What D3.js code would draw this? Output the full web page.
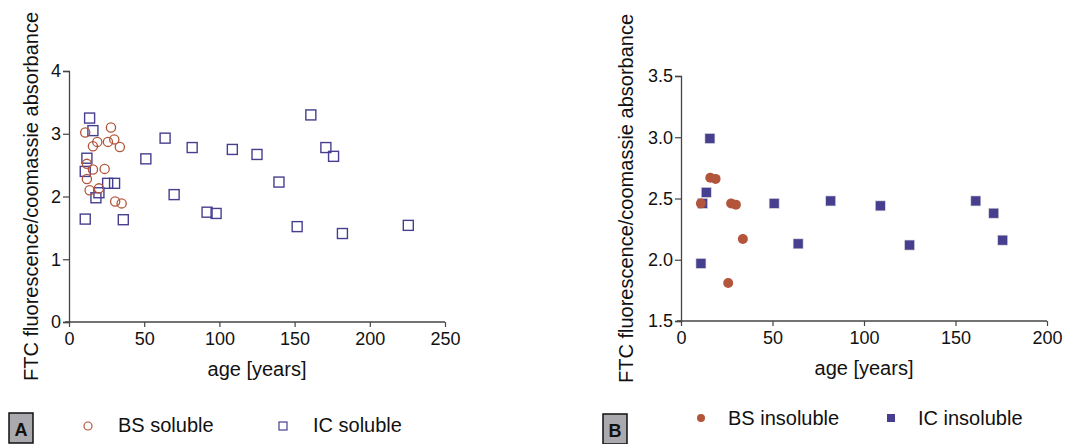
<!DOCTYPE html>
<html><head><meta charset="utf-8">
<script src="https://cdn.jsdelivr.net/npm/d3@7"></script>
<style>
body{margin:0;background:#fff;}
text{font-family:"Liberation Sans",Arial,sans-serif;fill:#111;}
.tick text{font-size:18px;}
</style></head>
<body><svg id="c" width="1065" height="444"></svg>
<script>
// Panel A: soluble fraction
const bsSolAge = [10.8,27.9,18.8,15.9,25.9,30.1,33.8,11.9,15.9,23.7,11.9,13.7,19.9,30.7,35.0];
const bsSolVal = [3.02,3.10,2.87,2.80,2.87,2.91,2.79,2.52,2.43,2.44,2.28,2.10,2.13,1.92,1.89];
const icSolAge = [13.7,15.9,11.9,10.8,10.8,17.9,19.9,25.7,30.3,36.1,51.1,63.9,69.9,81.9,91.8,97.8,108.6,125.0,139.6,151.7,160.8,170.8,175.9,181.8,225.6];
const icSolVal = [3.25,3.05,2.61,2.40,1.64,1.98,2.06,2.21,2.21,1.63,2.60,2.93,2.03,2.78,1.75,1.73,2.75,2.67,2.23,1.52,3.30,2.78,2.64,1.41,1.54];
// Panel B: insoluble fraction
const bsInsAge = [10.9,16.0,18.9,27.4,30.0,33.8,25.8];
const bsInsVal = [2.46,2.67,2.66,2.46,2.45,2.17,1.81];
const icInsAge = [15.8,13.8,11.8,10.9,50.9,64.0,81.8,108.9,124.9,161.1,170.9,175.8];
const icInsVal = [2.99,2.55,2.46,1.97,2.46,2.13,2.48,2.44,2.12,2.48,2.38,2.16];
const xTicksA = [0,50,100,150,200,250];
const yTicksA = [0,1,2,3,4];
const xTicksB = [0,50,100,150,200];
const yTicksB = [1.5,2.0,2.5,3.0,3.5];
const yTitle = "FTC fluorescence/coomassie absorbance";
const xTitle = "age [years]";

const red = "#b3553b", blue = "#463f8f";
const svg = d3.select("#c");

function panel(o){
  const g = svg.append("g");
  const x = d3.scaleLinear().domain(o.xd).range([o.x0,o.x1]);
  const y = d3.scaleLinear().domain(o.yd).range([o.y0,o.y1]);
  const ax = g.append("g").attr("transform",`translate(0,${o.y0})`)
    .call(d3.axisBottom(x).tickValues(o.xt).tickSize(5).tickPadding(5).tickFormat(d3.format("d")));
  const ay = g.append("g").attr("transform",`translate(${o.x0},0)`)
    .call(d3.axisLeft(y).tickValues(o.yt).tickSize(6).tickPadding(2).tickFormat(o.yf));
  [ax,ay].forEach(a=>{
    a.attr("font-size",null).attr("font-family",null);
    a.select(".domain").attr("stroke","#444").attr("stroke-width",1.3);
    a.selectAll(".tick line").attr("stroke","#444").attr("stroke-width",1.2);
    a.selectAll(".tick text").style("font-size","18px").attr("fill","#111");
  });
  ax.select(".domain").attr("d",`M${o.x0-4},0H${o.x1}`);
  g.append("text").attr("transform",`translate(${o.tx},${(o.y0+o.y1)/2}) rotate(-90)`)
    .attr("text-anchor","middle").attr("font-size",20).text(yTitle);
  g.append("text").attr("x",(o.x0+o.x1)/2).attr("y",o.y0+54)
    .attr("text-anchor","middle").attr("font-size",20).text(xTitle);
  return {g,x,y};
}

const A = panel({xd:[0,250],yd:[0,4],x0:69,x1:445,y0:322,y1:71,xt:xTicksA,yt:yTicksA,yf:d3.format("d"),tx:38});
const B = panel({xd:[0,200],yd:[1.5,3.5],x0:681,x1:1047,y0:321,y1:76,xt:xTicksB,yt:yTicksB,yf:d3.format(".1f"),tx:633});

// Panel A marks
A.g.selectAll(".sqA").data(icSolAge).enter().append("rect")
  .attr("x",(d)=>A.x(d)-5).attr("y",(d,i)=>A.y(icSolVal[i])-5).attr("width",10).attr("height",10)
  .attr("fill","none").attr("stroke",blue).attr("stroke-width",1.4);
A.g.selectAll(".ciA").data(bsSolAge).enter().append("circle")
  .attr("cx",(d)=>A.x(d)).attr("cy",(d,i)=>A.y(bsSolVal[i])).attr("r",4.6)
  .attr("fill","none").attr("stroke",red).attr("stroke-width",1.3);
// Panel B marks
B.g.selectAll(".sqB").data(icInsAge).enter().append("rect")
  .attr("x",(d)=>B.x(d)-5).attr("y",(d,i)=>B.y(icInsVal[i])-5).attr("width",10).attr("height",10)
  .attr("fill",blue).attr("stroke","#ddd").attr("stroke-width",0.6);
B.g.selectAll(".ciB").data(bsInsAge).enter().append("circle")
  .attr("cx",(d)=>B.x(d)).attr("cy",(d,i)=>B.y(bsInsVal[i])).attr("r",5)
  .attr("fill",red);

// Legends
function label(x,y,t){
  svg.append("rect").attr("x",x).attr("y",y).attr("width",24).attr("height",30)
    .attr("fill","#a9a9ae").attr("stroke","#111").attr("stroke-width",1.5);
  svg.append("text").attr("x",x+12).attr("y",y+23).attr("text-anchor","middle")
    .attr("font-size",18).attr("font-weight","bold").text(t);
}
label(9,413,"A");
label(603,414,"B");
svg.append("circle").attr("cx",88).attr("cy",426).attr("r",4).attr("fill","none").attr("stroke",red).attr("stroke-width",1.2);
svg.append("text").attr("x",118).attr("y",432).attr("font-size",20).text("BS soluble");
svg.append("rect").attr("x",279).attr("y",422).attr("width",8).attr("height",8).attr("fill","none").attr("stroke",blue).attr("stroke-width",1.2);
svg.append("text").attr("x",313).attr("y",432).attr("font-size",20).text("IC soluble");
svg.append("circle").attr("cx",701).attr("cy",418).attr("r",4).attr("fill",red);
svg.append("text").attr("x",728).attr("y",425).attr("font-size",20).text("BS insoluble");
svg.append("rect").attr("x",887).attr("y",414).attr("width",8).attr("height",8).attr("fill",blue);
svg.append("text").attr("x",918).attr("y",425).attr("font-size",20).text("IC insoluble");
</script></body></html>
